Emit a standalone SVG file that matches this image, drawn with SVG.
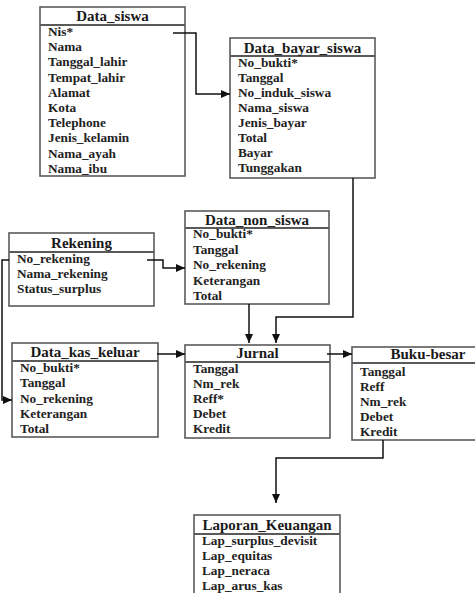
<svg xmlns="http://www.w3.org/2000/svg" width="475" height="593" viewBox="0 0 475 593">
<style>
.box{fill:#fff;stroke:#5a5a5a;stroke-width:1.6}
.hd{stroke:#5a5a5a;stroke-width:2}
.t{font-family:"Liberation Serif","Times New Roman",serif;font-weight:bold;font-size:15px;fill:#1a1a1a;text-anchor:middle}
.r{font-family:"Liberation Serif","Times New Roman",serif;font-weight:bold;font-size:13.3px;fill:#222}
.c{fill:none;stroke:#111;stroke-width:1.5}
</style>
<defs>
<marker id="ah" markerWidth="10" markerHeight="10" refX="9" refY="4" orient="auto" markerUnits="userSpaceOnUse">
<path d="M0,0 L9,4 L0,8 Z" fill="#111"/>
</marker>
</defs>
<rect width="475" height="593" fill="#fff"/>

<g id="data_siswa">
<rect class="box" x="40" y="7" width="145" height="169"/>
<line class="hd" x1="40" y1="25" x2="185" y2="25"/>
<text class="t" x="112.5" y="21">Data_siswa</text>
<text class="r" x="48" y="36">Nis*</text>
<text class="r" x="48" y="51.2">Nama</text>
<text class="r" x="48" y="66.4">Tanggal_lahir</text>
<text class="r" x="48" y="81.6">Tempat_lahir</text>
<text class="r" x="48" y="96.8">Alamat</text>
<text class="r" x="48" y="112">Kota</text>
<text class="r" x="48" y="127.2">Telephone</text>
<text class="r" x="48" y="142.4">Jenis_kelamin</text>
<text class="r" x="48" y="157.6">Nama_ayah</text>
<text class="r" x="48" y="172.8">Nama_ibu</text>
</g>

<g id="data_bayar_siswa">
<rect class="box" x="230" y="38" width="145" height="140"/>
<line class="hd" x1="230" y1="56" x2="375" y2="56"/>
<text class="t" x="302.5" y="52.5">Data_bayar_siswa</text>
<text class="r" x="238" y="67">No_bukti*</text>
<text class="r" x="238" y="82">Tanggal</text>
<text class="r" x="238" y="97">No_induk_siswa</text>
<text class="r" x="238" y="112">Nama_siswa</text>
<text class="r" x="238" y="127">Jenis_bayar</text>
<text class="r" x="238" y="142">Total</text>
<text class="r" x="238" y="157">Bayar</text>
<text class="r" x="238" y="172">Tunggakan</text>
</g>

<g id="data_non_siswa">
<rect class="box" x="185" y="211" width="144" height="93"/>
<line class="hd" x1="185" y1="228" x2="329" y2="228"/>
<text class="t" x="257" y="224.5">Data_non_siswa</text>
<text class="r" x="193" y="238">No_bukti*</text>
<text class="r" x="193" y="253.5">Tanggal</text>
<text class="r" x="193" y="269">No_rekening</text>
<text class="r" x="193" y="284.5">Keterangan</text>
<text class="r" x="193" y="300">Total</text>
</g>

<g id="rekening">
<rect class="box" x="9" y="233" width="145" height="73"/>
<line class="hd" x1="9" y1="252" x2="154" y2="252"/>
<text class="t" x="81.5" y="247.5">Rekening</text>
<text class="r" x="17" y="263">No_rekening</text>
<text class="r" x="17" y="278">Nama_rekening</text>
<text class="r" x="17" y="293">Status_surplus</text>
</g>

<g id="data_kas_keluar">
<rect class="box" x="12" y="343" width="146" height="94"/>
<line class="hd" x1="12" y1="361" x2="158" y2="361"/>
<text class="t" x="85" y="357">Data_kas_keluar</text>
<text class="r" x="20" y="372">No_bukti*</text>
<text class="r" x="20" y="387.2">Tanggal</text>
<text class="r" x="20" y="402.5">No_rekening</text>
<text class="r" x="20" y="417.7">Keterangan</text>
<text class="r" x="20" y="433">Total</text>
</g>

<g id="jurnal">
<rect class="box" x="185" y="345" width="145" height="93"/>
<line class="hd" x1="185" y1="362" x2="330" y2="362"/>
<text class="t" x="257.5" y="358">Jurnal</text>
<text class="r" x="193" y="373">Tanggal</text>
<text class="r" x="193" y="388">Nm_rek</text>
<text class="r" x="193" y="403">Reff*</text>
<text class="r" x="193" y="418">Debet</text>
<text class="r" x="193" y="433">Kredit</text>
</g>

<g id="buku_besar">
<rect class="box" x="352" y="347" width="130" height="93"/>
<line class="hd" x1="352" y1="363" x2="482" y2="363"/>
<text class="t" x="428" y="359">Buku-besar</text>
<text class="r" x="360" y="376">Tanggal</text>
<text class="r" x="360" y="391">Reff</text>
<text class="r" x="360" y="406">Nm_rek</text>
<text class="r" x="360" y="421">Debet</text>
<text class="r" x="360" y="436">Kredit</text>
</g>

<g id="laporan_keuangan">
<rect class="box" x="194" y="515" width="146" height="90"/>
<line class="hd" x1="194" y1="534" x2="340" y2="534"/>
<text class="t" x="267" y="530">Laporan_Keuangan</text>
<text class="r" x="202" y="545">Lap_surplus_devisit</text>
<text class="r" x="202" y="560">Lap_equitas</text>
<text class="r" x="202" y="575">Lap_neraca</text>
<text class="r" x="202" y="590">Lap_arus_kas</text>
</g>

<g id="connectors">
<path class="c" d="M173,33 H196 V94 H230" marker-end="url(#ah)"/>
<path class="c" d="M353,178 V317 H276 V343" marker-end="url(#ah)"/>
<path class="c" d="M249,304 V343" marker-end="url(#ah)"/>
<path class="c" d="M147,260 H163 V268 H185" marker-end="url(#ah)"/>
<path class="c" d="M9,260 H2 V400 H12" marker-end="url(#ah)"/>
<path class="c" d="M157,354 H185" marker-end="url(#ah)"/>
<path class="c" d="M327,354 H352" marker-end="url(#ah)"/>
<path class="c" d="M383,440 V458 H276 V503" marker-end="url(#ah)"/>
</g>
</svg>
